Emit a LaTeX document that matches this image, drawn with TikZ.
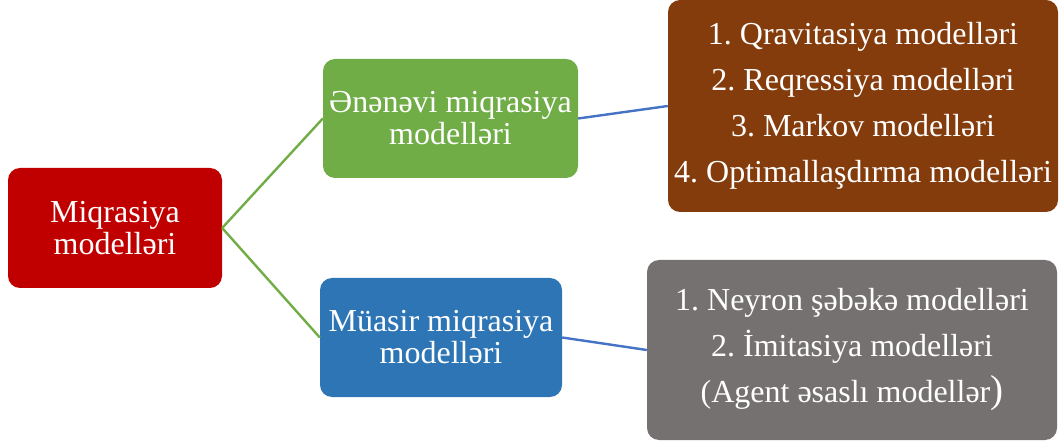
\documentclass[tikz,border=0pt]{standalone}
\usepackage{fontspec}
\setmainfont{Liberation Serif}
\frenchspacing
\definecolor{cred}{HTML}{C00000}
\definecolor{cgreen}{HTML}{70AD47}
\definecolor{cblue}{HTML}{2E75B6}
\definecolor{cbrown}{HTML}{843C0C}
\definecolor{cgray}{HTML}{767171}
\definecolor{clink}{HTML}{4472C4}
\begin{document}
\begin{tikzpicture}[x=1pt,y=-1pt,
  box/.style={rounded corners=12pt, text=white, align=center, inner sep=0pt,
    font=\fontsize{32}{32}\selectfont},
  listbox/.style={box, font=\fontsize{32}{46}\selectfont},
  glink/.style={draw=cgreen, line width=2.4pt},
  blink/.style={draw=clink, line width=2.4pt}]
\useasboundingbox (0,0) rectangle (1060,443);
\node[box, fill=cred, minimum width=214pt, minimum height=120pt] (root) at (115,228) {Miqrasiya\\modelləri};
\node[box, fill=cgreen, minimum width=255pt, minimum height=119pt] (trad) at (450.5,118.5) {Ənənəvi miqrasiya\\modelləri};
\node[box, fill=cblue, minimum width=242pt, minimum height=119pt] (mod) at (441,337.5) {Müasir miqrasiya\\modelləri};
\node[listbox, fill=cbrown, minimum width=390pt, minimum height=212pt] (tlist) at (863,106) {1. Qravitasiya modelləri\\2. Reqressiya modelləri\\3. Markov modelləri\\4. Optimallaşdırma modelləri};
\node[listbox, fill=cgray, minimum width=410pt, minimum height=180pt] (mlist) at (852,350) {1. Neyron şəbəkə modelləri\\2. İmitasiya modelləri\\(Agent əsaslı modellər{\fontsize{39}{39}\selectfont )}};
\draw[glink] (root.east) -- (trad.west);
\draw[glink] (root.east) -- (mod.west);
\draw[blink] (trad.east) -- (tlist.west);
\draw[blink] (mod.east) -- (mlist.west);
\end{tikzpicture}
\end{document}
